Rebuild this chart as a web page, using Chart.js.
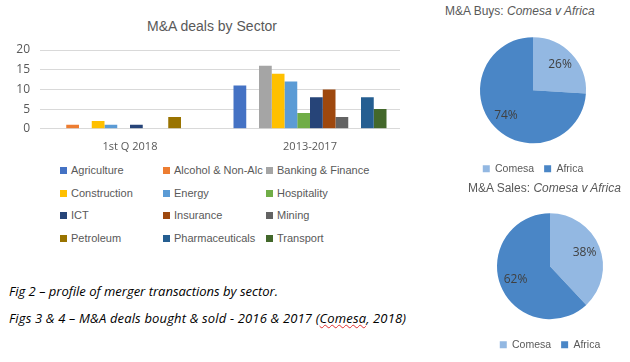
<!DOCTYPE html>
<html lang="en">
<head>
<meta charset="UTF-8">
<title>M&amp;A deals by Sector</title>
<script src="https://cdn.jsdelivr.net/npm/chart.js"></script>
<style>
  body { margin: 0; background: #fff; width: 630px; height: 362px; overflow: hidden; position: relative; font-family: "Liberation Sans", Arial, sans-serif; }
  .box { position: absolute; }
  #barTitle { position: absolute; left: 112px; top: 18px; width: 200px; text-align: center; font-size: 14px; color: #595959; }
  #legend { position: absolute; left: 60px; top: 164px; width: 330px; font-size: 11px; color: #595959; }
  #legend .item { position: absolute; white-space: nowrap; }
  #legend .sw { display: inline-block; width: 7px; height: 7px; margin-right: 4px; }
  .ptitle { position: absolute; font-size: 12px; color: #595959; white-space: nowrap; }
  .note { position: absolute; left: 9px; font-family: "Open Sans", sans-serif; font-style: italic; font-size: 13px; color: #000; white-space: nowrap; }
  .note2 { letter-spacing: 0.15px; }
  .squig { text-decoration: underline wavy #e03030; text-decoration-thickness: 1px; }
</style>
</head>
<body>

<div id="barTitle">M&amp;A deals by Sector</div>
<div class="box" style="left:0; top:0; width:420px; height:158px;"><canvas id="barChart"></canvas></div>
<div id="legend"></div>

<div class="ptitle" style="left:445px; top:4px;">M&amp;A Buys: <i>Comesa v Africa</i></div>
<div class="box" style="left:428px; top:27px; width:210px; height:157px;"><canvas id="buysChart"></canvas></div>

<div class="ptitle" style="left:468px; top:181px;">M&amp;A Sales: <i>Comesa v Africa</i></div>
<div class="box" style="left:445px; top:203px; width:210px; height:157px;"><canvas id="salesChart"></canvas></div>

<div class="note" style="top:282px;">Fig 2 – profile of merger transactions by sector.</div>
<div class="note note2" style="top:309px;">Figs 3 &amp; 4 – M&amp;A deals bought &amp; sold - 2016 &amp; 2017 (<span class="squig">Comesa</span>, 2018)</div>

<script>
    // bar chart data
    const periods = ['1st Q 2018', '2013-2017'];
    const sectors = ['Agriculture', 'Alcohol & Non-Alc', 'Banking & Finance', 'Construction', 'Energy', 'Hospitality',
                     'ICT', 'Insurance', 'Mining', 'Petroleum', 'Pharmaceuticals', 'Transport'];
    const q1_2018 = [0, 1, 0, 2, 1, 0, 1, 0, 0, 3, 0, 0];
    const y2013_2017 = [11, 0, 16, 14, 12, 4, 8, 10, 3, 0, 8, 5];
    const sectorColors = ['#4472c4', '#ed7d31', '#a5a5a5', '#ffc000', '#5b9bd5', '#70ad47',
                          '#264478', '#9e480e', '#636363', '#997300', '#255e91', '#43682b'];
    const yTicks = [0, 5, 10, 15, 20];

    // pie data
    const pieLabels = ['Comesa', 'Africa'];
    const buysPct = [26, 74];
    const salesPct = [38, 62];
    const pieColors = ['#93b8e2', '#4a86c6'];

    const grey = '#595959';

    var barCtx = document.getElementById('barChart').getContext('2d');
    var barChart = new Chart(barCtx, {
        type: 'bar',
        data: {
            labels: periods,
            datasets: sectors.map((s, i) => ({
                label: s,
                data: [q1_2018[i], y2013_2017[i]],
                backgroundColor: sectorColors[i],
                barPercentage: 1,
                categoryPercentage: 0.85
            }))
        },
        options: {
            responsive: true,
            maintainAspectRatio: false,
            animation: false,
            layout: { padding: { left: 0, right: 20, top: 50, bottom: 2 } },
            plugins: {
                legend: { display: false },
                tooltip: { enabled: false },
                title: { display: false }
            },
            scales: {
                x: {
                    grid: { display: false },
                    border: { display: false },
                    ticks: { color: grey, font: { family: 'Open Sans', size: 11 }, padding: 3 }
                },
                y: {
                    min: 0,
                    max: 20,
                    afterBuildTicks: axis => { axis.ticks = yTicks.map(v => ({ value: v })); },
                    afterFit: axis => { axis.width = 40; },
                    grid: { color: '#d9d9d9', drawTicks: false },
                    border: { display: false },
                    ticks: { color: grey, font: { family: 'Open Sans', size: 12 }, padding: 10 }
                }
            }
        }
    });

    // three-column legend like the original
    const legendEl = document.getElementById('legend');
    const colX = [0, 103, 206];
    sectors.forEach((s, i) => {
        const item = document.createElement('div');
        item.className = 'item';
        item.style.left = colX[i % 3] + 'px';
        item.style.top = (Math.floor(i / 3) * 22.5) + 'px';
        item.innerHTML = '<span class="sw" style="background:' + sectorColors[i] + '"></span>' + s.replace('&', '&amp;');
        legendEl.appendChild(item);
    });

    // percent labels inside the slices
    const pctLabels = {
        id: 'pctLabels',
        afterDatasetsDraw(chart) {
            const ctx = chart.ctx;
            const meta = chart.getDatasetMeta(0);
            ctx.save();
            ctx.fillStyle = '#404040';
            ctx.font = '12px "Open Sans"';
            ctx.textAlign = 'center';
            ctx.textBaseline = 'middle';
            meta.data.forEach((arc, i) => {
                const mid = (arc.startAngle + arc.endAngle) / 2;
                const r = arc.outerRadius * 0.7;
                ctx.fillText(chart.data.datasets[0].data[i] + '%', arc.x + Math.cos(mid) * r, arc.y + Math.sin(mid) * r);
            });
            ctx.restore();
        }
    };

    function makePie(id, values) {
        return new Chart(document.getElementById(id).getContext('2d'), {
            type: 'pie',
            data: {
                labels: pieLabels,
                datasets: [{ data: values, backgroundColor: pieColors, borderWidth: 0, radius: 53 }]
            },
            options: {
                responsive: true,
                maintainAspectRatio: false,
                animation: false,
                layout: { padding: 0 },
                plugins: {
                    tooltip: { enabled: false },
                    legend: {
                        position: 'bottom',
                        labels: {
                            color: grey,
                            font: { family: 'Liberation Sans', size: 10.5 },
                            boxWidth: 7,
                            boxHeight: 7,
                            padding: 10
                        }
                    }
                }
            },
            plugins: [pctLabels]
        });
    }

    makePie('buysChart', buysPct);
    makePie('salesChart', salesPct);
</script>

</body>
</html>
